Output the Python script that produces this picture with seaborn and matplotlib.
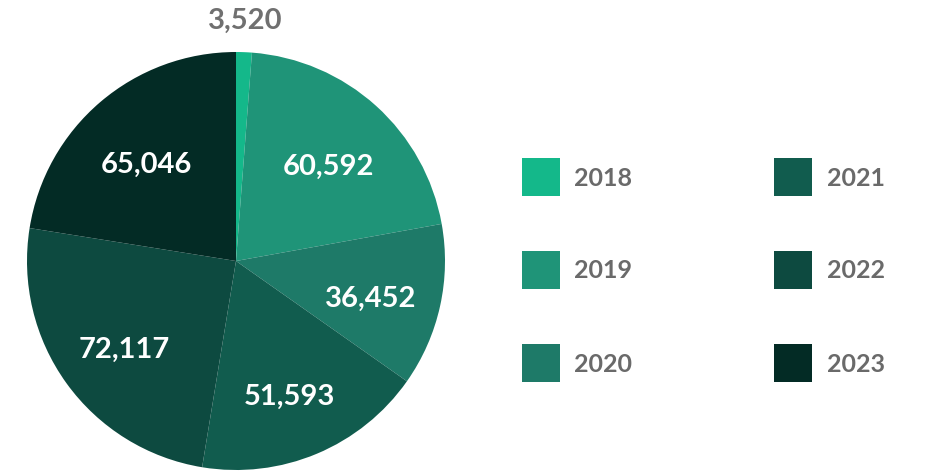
import matplotlib
matplotlib.use("Agg")
import matplotlib.pyplot as plt
from matplotlib.lines import Line2D
import seaborn as sns
import numpy as np

years = ["2018", "2019", "2020", "2021", "2022", "2023"]
counts = [3520, 60592, 36452, 51593, 72117, 65046]
palette = ["#14B88A", "#1F9478", "#1E7A68", "#115C4E", "#0D4A40", "#032B25"]

sns.set_theme(style="white")
plt.rcParams['font.family'] = ['Lato', 'DejaVu Sans']

fig = plt.figure(figsize=(9.31, 4.71), dpi=100)
# pie area: centre ~ (236, 261) px, radius ~ 209 px
ax = fig.add_axes([27 / 931, 1 / 471, 418 / 931, 418 / 471])

wedges, _ = ax.pie(counts, colors=palette, startangle=90, counterclock=False,
                   radius=1.0, wedgeprops=dict(linewidth=0))
ax.set_xlim(-1, 1)
ax.set_ylim(-1, 1)
ax.set_aspect("equal")
ax.axis("off")

# value labels
for w, v in zip(wedges, counts):
    mid = np.deg2rad((w.theta1 + w.theta2) / 2)
    small = v / sum(counts) < 0.03
    d = 1.15 if small else 0.66
    dy = 0 if small else -0.04
    ax.text(d * np.cos(mid), d * np.sin(mid) + dy, f"{v:,}",
            ha="center", va="center", fontsize=21, fontweight="bold",
            color="#707070" if small else "white", clip_on=False)

handles = [Line2D([], [], marker="s", ls="", markersize=27, markerfacecolor=c,
                  markeredgewidth=0) for c in palette]
fig.legend(handles, years, loc="center left", bbox_to_anchor=(522 / 931, 1 - 271 / 471),
           ncol=2, frameon=False, labelcolor="#6a6a6a",
           prop=dict(weight="bold", size=18), handlelength=1.48, handletextpad=0.6,
           labelspacing=2.8, columnspacing=5.7, borderpad=0, borderaxespad=0)

fig.savefig("out.png", dpi=100)
